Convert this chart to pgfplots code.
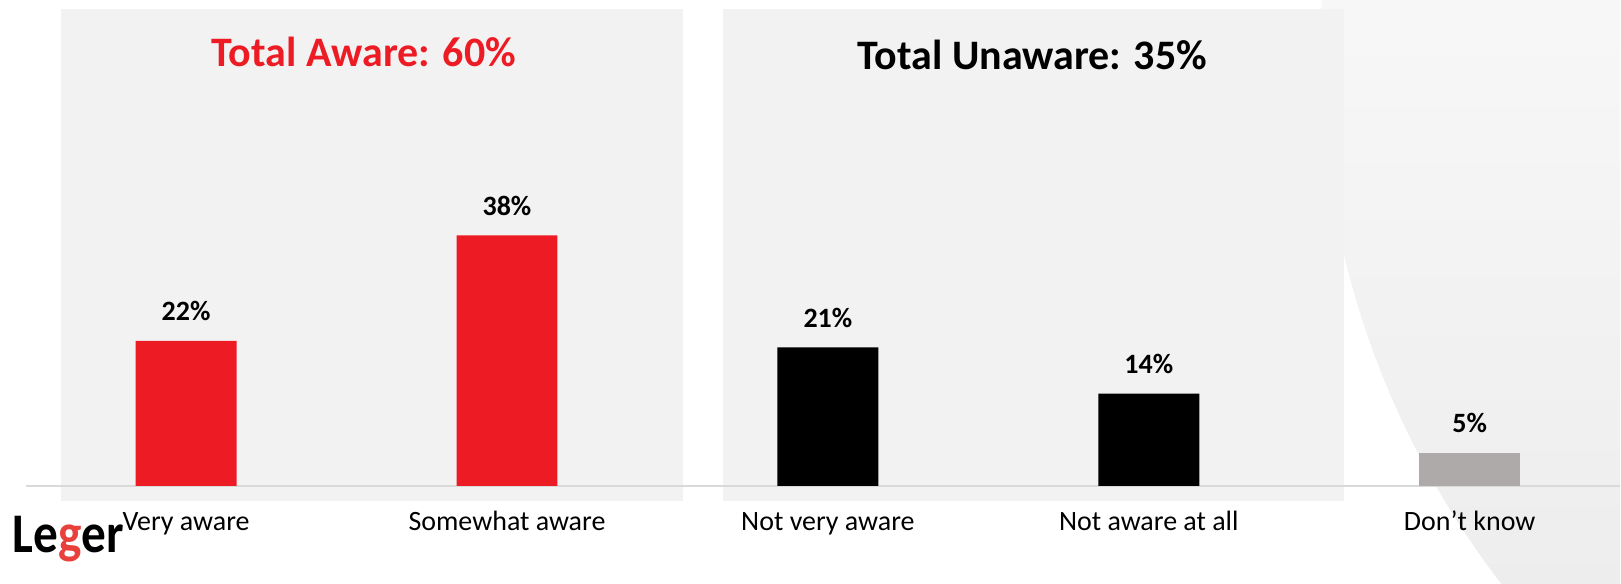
\documentclass[border=0pt]{standalone}
\usepackage{pgfplots}
\pgfplotsset{compat=1.18}
\usepackage{fontspec}
\setmainfont{Carlito}
\definecolor{lred}{HTML}{ED1C24}
\definecolor{lgray}{HTML}{AEAAAA}
\definecolor{panel}{HTML}{F2F2F2}
\definecolor{axline}{HTML}{D9D9D9}
\definecolor{logored}{HTML}{E8413C}
\begin{document}
\begin{tikzpicture}
\begin{scope}[x=0.5pt,y=-0.5pt]
\fill[white] (0,0) rectangle (1621,584);
\begin{scope}
\clip (0,0) rectangle (1621,584);
\clip (2195,51) circle (874);
\shade[top color=black!3, bottom color=black!7] (1250,0) rectangle (1621,584);
\end{scope}
\fill[panel] (61,9) rectangle (683,501);
\fill[panel] (723,9) rectangle (1345,501);
\draw[axline, line width=1pt] (26,486) -- (1621,486);
\node[anchor=base, text=lred, inner sep=0pt, font=\fontsize{21}{25}\selectfont\bfseries] at (364,66) {Total Aware: 60\%};
\node[anchor=base, text=black, inner sep=0pt, font=\fontsize{21}{25}\selectfont\bfseries] at (1033,69) {Total Unaware: 35\%};
\node[anchor=base west, inner sep=0pt, font=\fontsize{28}{32}\selectfont\bfseries] at (12,553) {\scalebox{0.88}[1]{Le\textcolor{logored}{g}er}};
\end{scope}
\begin{axis}[
  at={(0,0)}, anchor=north west,
  width=810.5pt, height=243pt, scale only axis,
  xmin=-0.5799, xmax=4.4684, ymin=0, ymax=73.64,
  axis line style={draw=none}, major tick length=0pt, ytick=\empty,
  xtick={0,1,2,3,4},
  xticklabels={Very aware, Somewhat aware, Not very aware, Not aware at all, Don’t know},
  xticklabel style={anchor=base, yshift=-22.5pt, font=\fontsize{14}{16}\selectfont, text=black},
  ybar, bar width=50.5pt,
  point meta=y,
  /pgf/number format/assume math mode=true,
  nodes near coords={\pgfmathprintnumber{\pgfplotspointmeta}\%},
  nodes near coords style={anchor=base, yshift=10pt, font=\fontsize{14}{16}\selectfont\bfseries, text=black},
  clip=false,
]
\addplot[fill=lred, draw=none, bar shift=0pt] coordinates {(0,22) (1,38)};
\addplot[fill=black, draw=none, bar shift=0pt] coordinates {(2,21) (3,14)};
\addplot[fill=lgray, draw=none, bar shift=0pt] coordinates {(4,5)};
\end{axis}
\end{tikzpicture}
\end{document}
